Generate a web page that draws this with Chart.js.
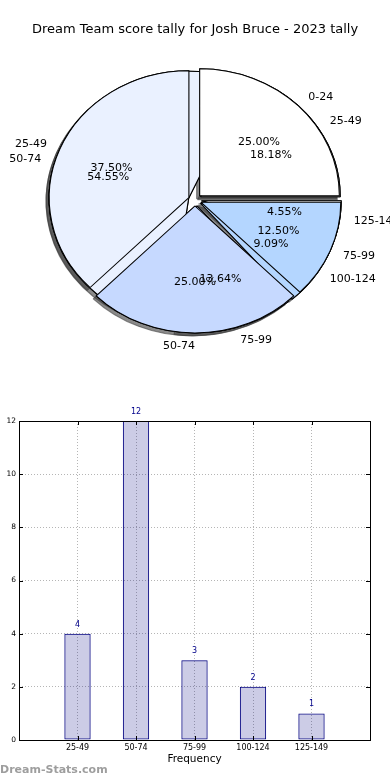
<!DOCTYPE html>
<html>
<head>
<meta charset="utf-8">
<script src="https://cdn.jsdelivr.net/npm/chart.js@4.4.1/dist/chart.umd.min.js"></script>
<style>
    html, body { margin: 0; padding: 0; background: #fff; }
    #wrap { position: relative; width: 390px; height: 780px; overflow: hidden; }
    #pie { position: absolute; left: 0; top: 0; }
    #bar { position: absolute; left: 0; top: 400px; }
</style>
</head>
<body>
<div id="wrap">
    <canvas id="pie" width="390" height="370"></canvas>
    <canvas id="bar" width="390" height="380"></canvas>
</div>
<script>
const titulo = "Dream Team score tally for Josh Bruce - 2023 tally";

// pizza 1: tally 2023
const faixasTally = ["0-24", "25-49", "50-74", "75-99"];
const valoresTally = [2, 3, 2, 1];
const cores = ["#ffffff", "#eaf1ff", "#c6d9ff", "#b4d6ff"];

// pizza 2 e barras: frequência
const faixasFreq = ["25-49", "50-74", "75-99", "100-124", "125-149"];
const valoresFreq = [4, 12, 3, 2, 1];

const eixoY = { min: 0, max: 12, passo: 2 };

Chart.defaults.font.family = "'DejaVu Sans', sans-serif";
Chart.defaults.color = "#000";

const ESTICA = 1.10;   // a pizza original é uma elipse
const DESLOC = 6;      // "explode" de cada fatia, em px
const rev = a => a.slice().reverse();
const coresPara = n => Array.from({ length: n }, (_, i) => cores[i % cores.length]);

// desenha a fatia deslocada para fora (como o explode do matplotlib)
function desenhaFatia(ctx, arc) {
    const meio = (arc.startAngle + arc.endAngle) / 2;
    ctx.save();
    ctx.translate(Math.cos(meio) * DESLOC, Math.sin(meio) * DESLOC);
    arc.draw(ctx);
    ctx.restore();
}

function rotulosPizza(chart, dsIndex, nomes, valores) {
    const ctx = chart.ctx;
    const meta = chart.getDatasetMeta(dsIndex);
    const total = valores.reduce((s, v) => s + v, 0);
    ctx.save();
    ctx.font = "11px 'DejaVu Sans'";
    ctx.fillStyle = "#000";
    ctx.textBaseline = "middle";
    meta.data.forEach((arc, i) => {
        const meio = (arc.startAngle + arc.endAngle) / 2;
        const cos = Math.cos(meio), sin = Math.sin(meio);
        // nome da faixa fora
        const r1 = DESLOC + 1.1 * arc.outerRadius;
        ctx.textAlign = cos > 1e-6 ? "left" : "right";
        ctx.fillText(nomes[i], arc.x + ESTICA * r1 * cos, arc.y + r1 * sin);
        // porcentagem dentro
        const r2 = DESLOC + 0.6 * arc.outerRadius;
        ctx.textAlign = "center";
        const pct = (valores[i] / total * 100).toFixed(2) + "%";
        ctx.fillText(pct, arc.x + ESTICA * r2 * cos, arc.y + r2 * sin);
    });
    ctx.restore();
}

const pluginPizza = {
    id: "pizza",
    beforeDatasetsDraw(chart) {
        const ctx = chart.ctx;
        const cx = (chart.chartArea.left + chart.chartArea.right) / 2;
        const fatiasFreq = chart.getDatasetMeta(0).data;
        const fatiasTally = chart.getDatasetMeta(1).data;
        ctx.save();
        ctx.translate(cx, 0);
        ctx.scale(ESTICA, 1);
        ctx.translate(-cx, 0);
        // sombras de todas as fatias por baixo
        ctx.save();
        ctx.shadowColor = "rgba(60,60,60,0.6)";
        ctx.shadowOffsetX = -3;
        ctx.shadowOffsetY = 3;
        fatiasFreq.forEach(a => desenhaFatia(ctx, a));
        fatiasTally.forEach(a => desenhaFatia(ctx, a));
        ctx.restore();
        // a segunda pizza fica embaixo da primeira
        fatiasFreq.forEach(a => desenhaFatia(ctx, a));
        fatiasTally.forEach(a => desenhaFatia(ctx, a));
        ctx.restore();
    },
    beforeDatasetDraw() {
        return false; // já desenhado acima
    },
    afterDatasetsDraw(chart) {
        rotulosPizza(chart, 1, rev(faixasTally), rev(valoresTally));
        rotulosPizza(chart, 0, rev(faixasFreq), rev(valoresFreq));
    }
};

new Chart(document.getElementById("pie"), {
    type: "pie",
    data: {
        labels: rev(faixasFreq),
        datasets: [
            {
                data: rev(valoresFreq),
                backgroundColor: rev(coresPara(valoresFreq.length)),
                borderColor: "#000",
                borderWidth: 1,
                hidden: true
            },
            {
                data: rev(valoresTally),
                backgroundColor: rev(coresPara(valoresTally.length)),
                borderColor: "#000",
                borderWidth: 1
            }
        ]
    },
    options: {
        responsive: false,
        animation: false,
        devicePixelRatio: 1,
        rotation: 90,
        radius: 127,
        layout: { padding: { bottom: 17.6 } },
        plugins: {
            legend: { display: false },
            tooltip: { enabled: false },
            title: {
                display: true,
                text: titulo,
                font: { size: 13, weight: "normal" },
                color: "#000",
                padding: { top: 22, bottom: 10 }
            }
        }
    },
    plugins: [pluginPizza]
});

const pluginBarras = {
    id: "barras",
    afterDatasetsDraw(chart) {
        const ctx = chart.ctx;
        const a = chart.chartArea;
        const xs = chart.scales.x, ys = chart.scales.y;
        ctx.save();
        // marcas internas
        ctx.strokeStyle = "#000";
        ctx.lineWidth = 1;
        ctx.beginPath();
        for (let v = eixoY.min; v <= eixoY.max; v += eixoY.passo) {
            const py = Math.round(ys.getPixelForValue(v)) + 0.5;
            ctx.moveTo(a.left, py); ctx.lineTo(a.left + 4, py);
            ctx.moveTo(a.right, py); ctx.lineTo(a.right - 4, py);
        }
        faixasFreq.forEach((f, i) => {
            const px = Math.round(xs.getPixelForValue(i)) + 0.5;
            ctx.moveTo(px, a.bottom); ctx.lineTo(px, a.bottom - 4);
            ctx.moveTo(px, a.top); ctx.lineTo(px, a.top + 4);
        });
        ctx.stroke();
        // moldura
        ctx.strokeRect(Math.round(a.left) + 0.5, Math.round(a.top) + 0.5,
            Math.round(a.right - a.left), Math.round(a.bottom - a.top));
        // valores acima das barras
        ctx.fillStyle = "#00008b";
        ctx.font = "8px 'DejaVu Sans'";
        ctx.textAlign = "center";
        ctx.textBaseline = "middle";
        chart.getDatasetMeta(0).data.forEach((bar, i) => {
            ctx.fillText(String(valoresFreq[i]), bar.x, bar.y - 9);
        });
        // marca d'água
        ctx.fillStyle = "#9e9e9e";
        ctx.font = "bold 11px 'DejaVu Sans'";
        ctx.textAlign = "left";
        ctx.fillText("Dream-Stats.com", 0, chart.height - 10);
        ctx.restore();
    }
};

new Chart(document.getElementById("bar"), {
    type: "bar",
    data: {
        datasets: [{
            data: valoresFreq.map((v, i) => ({ x: i, y: v })),
            backgroundColor: "rgba(0,0,128,0.2)",
            borderColor: "#000080",
            borderWidth: 1,
            borderSkipped: false,
            barPercentage: 0.45,
            categoryPercentage: 1
        }]
    },
    options: {
        responsive: false,
        animation: false,
        devicePixelRatio: 1,
        layout: { padding: { top: 21, right: 20, left: 0, bottom: 0 } },
        plugins: { legend: { display: false }, tooltip: { enabled: false } },
        scales: {
            x: {
                type: "linear",
                min: -1,
                max: 5,
                offset: false,
                afterFit: s => { s.height = 40; },
                ticks: {
                    stepSize: 1,
                    autoSkip: false,
                    maxRotation: 0,
                    padding: 3,
                    font: { size: 8 },
                    callback: v => faixasFreq[v] ?? ""
                },
                grid: { color: "#b5b5b5", drawTicks: false, offset: false },
                border: { display: false, dash: [1, 2] },
                title: {
                    display: true,
                    text: "Frequency",
                    font: { size: 10.5 },
                    padding: { top: 0, bottom: 14 }
                }
            },
            y: {
                min: eixoY.min,
                max: eixoY.max,
                afterFit: s => { s.width = 19; },
                ticks: { stepSize: eixoY.passo, padding: 3, font: { size: 7.5 } },
                grid: { color: "#b5b5b5", drawTicks: false },
                border: { display: false, dash: [1, 2] },
                title: {
                    display: true,
                    text: "Data Intervals",
                    font: { size: 10.5 },
                    padding: { top: -10, bottom: 0 }
                }
            }
        }
    },
    plugins: [pluginBarras]
});
</script>
</body>
</html>
